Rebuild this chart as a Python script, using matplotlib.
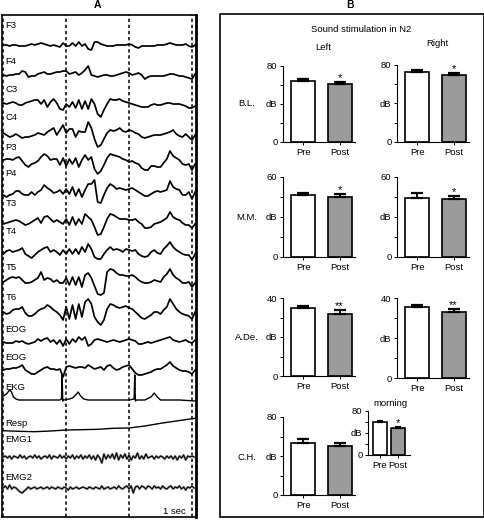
import numpy as np
import matplotlib
matplotlib.use('Agg')
import matplotlib.pyplot as plt
from matplotlib.patches import Rectangle

plt.rcParams['font.family'] = ['Liberation Sans', 'DejaVu Sans']

W, H = 485, 520

# ---------------- Panel A data (deflection in px, up positive; 0.05 s grid) ----------------
channels = ['F3', 'F4', 'C3', 'C4', 'P3', 'P4', 'T3', 'T4', 'T5', 'T6', 'EOG', 'EOG',
            'EKG', 'Resp', 'EMG1', 'EMG2']

F3 = [0, 0, -1, 0, 0, -1, -1, -1, 0, 1,
      0, 1, 2, 1, 0, -1, 0, -1, -2, 2,
      -1, -1, 2, -1, 3, -1, 1, -4, -5, 3,
      3, 1, 0, -1, -1, -1, 0, 0, 0, 0,
      1, 0, -2, -3, -1, -1, -1, -1, -1, 0,
      0, 0, 1, 2, 1, 0, 0, 0, 1, -1,
      -2, 0]
F4 = [0, -1, 0, 0, 1, 1, 4, 3, -2, -1,
      -1, 1, 2, 3, 1, 1, 2, 3, 3, 4,
      4, 1, 2, 3, 0, 2, 5, 9, 0, -1,
      -2, -1, 0, 0, -1, -1, 0, 1, 2, 3,
      2, 0, 1, 2, 0, -4, -2, -1, -1, -1,
      -1, -1, 0, 1, 1, 0, -1, -1, -2, -3,
      -4, 1]
C3 = [1, 0, 1, 2, 1, -1, -1, 1, 2, 3,
      4, 4, 0, 4, -3, 2, 5, 1, -5, -6,
      0, -3, 2, -4, 4, -5, 3, -5, 5, 0,
      -10, -13, -6, 0, 5, 4, 4, 5, 3, 2,
      1, 0, -1, -2, -3, -3, -3, -1, 0, -1,
      -1, 0, 1, 1, 0, 0, 0, -1, -2, -4,
      -4, -2]
C4 = [2, 0, -2, -1, 1, -1, -3, -2, -2, -1,
      0, 2, 1, 0, 3, 5, 7, 0, 5, 10,
      2, 6, 6, -2, 4, 3, 3, 13, 7, -4,
      -12, -10, -4, 2, 5, 4, 5, 7, 4, 3,
      5, 4, 2, 1, -2, -3, -2, -1, 0, 0,
      0, 1, 2, 3, 5, 1, -1, -2, 1, -2,
      -5, 0]
P3 = [2, 3, 3, 2, 4, 5, 1, -3, -5, -2,
      -1, 1, 5, 8, 6, 2, 3, 3, -3, 4,
      -4, 3, -2, 4, -5, 2, 7, 2, 5, -7,
      -12, -9, -3, 4, 8, 7, 6, 5, 3, 2,
      0, 1, -1, -2, -6, -8, -8, -4, -4, -5,
      -5, -1, 3, 11, 6, 4, 2, -2, -3, -2,
      -8, -2]
P4 = [-3, -5, -3, -2, 1, 1, -2, -3, -3, 0,
      -3, 0, 2, 7, 4, 2, -1, 0, 2, -2,
      3, -2, 5, -4, 3, -5, 2, 8, 8, 12,
      -10, -11, -3, 4, 8, 6, 3, 4, 3, 2,
      3, 4, 2, 0, -2, -4, -4, -2, 0, 1,
      0, 1, 2, 11, 5, 3, 2, -3, -3, 0,
      -7, 0]
T3 = [-2, -1, 0, 1, 2, 1, -1, -3, -2, 0,
      2, 4, -1, 5, 6, 3, 0, 2, 0, -2,
      3, -3, 5, -3, 3, -2, 8, 5, 2, -5,
      -13, -12, -5, 3, 8, 7, 5, 3, 3, 3,
      2, 2, 3, 0, -2, -6, -6, -5, -2, -1,
      0, 2, 4, 10, 5, 3, 2, -1, -3, -3,
      -6, -2]
T4 = [-2, 1, 2, 0, 1, 2, 4, -2, -4, -6,
      -3, 0, 2, 4, 5, 0, 2, 0, -3, 2,
      -2, 3, -2, 3, -2, 5, 0, 8, 3, -5,
      -7, -7, -2, 2, 5, 2, 3, 2, 0, 3,
      2, 1, 2, -2, -4, -5, -4, 0, 2, -1,
      -2, 3, 6, 10, 5, 2, 0, -2, -3, -3,
      -8, -2]
T5 = [-2, 0, 2, 3, 2, 3, 0, -3, -3, -2,
      0, 2, 8, 0, 2, 1, -2, 0, -3, -3,
      2, -5, 3, -5, 3, -7, 5, 7, 2, -6,
      -14, -15, -13, 8, 11, 10, 7, 5, 5, 4,
      4, 5, 3, 0, -2, -3, -3, -2, 0, -1,
      -2, 3, 6, 11, 5, 2, 0, -3, -3, -2,
      -7, -3]
T6 = [0, -2, -1, 2, 3, 3, 5, -1, -4, -4,
      -2, 1, 3, 4, 7, 5, 2, 0, -3, -8,
      5, -7, 7, -7, 8, -5, 10, 13, 8, -5,
      -10, -13, -8, 3, 8, 7, 5, 4, 5, 6,
      4, 3, 0, -3, -6, -7, -5, -3, 0, 0,
      -2, 2, 5, 13, 8, 3, 0, -2, -3, -4,
      -7, 0]
EOG1 = [0, -1, -1, -1, 1, 0, 1, -1, -2, -1,
        0, 3, 1, 3, 4, 0, 2, -2, 2, -4,
        3, -2, 3, 0, 5, 2, 5, -4, -2, 2,
        3, 2, 1, 0, 1, 2, 1, 0, 1, 2,
        3, 2, 1, -2, -2, -1, 0, -1, 0, 1,
        2, 3, 4, 5, 2, 1, 0, 1, 2, 0,
        -1, 2]
EOG2 = [0, 1, 1, 2, 2, 3, 5, 0, -2, -4,
        -4, -2, 0, 2, 3, 1, 1, 0, 1, -7,
        3, 4, 3, 2, 3, 3, 2, 5, 3, 1,
        2, 3, 0, 4, 5, 2, 0, 1, 3, 4,
        5, 1, -3, -5, -5, -4, -3, -2, 0, 1,
        1, 3, 5, 8, 4, 2, 0, -1, -1, -2,
        -4, 0]

# EKG: sample times (s) and deflection (px)
ekg_t = [0, 0.05, 0.1, 0.13, 0.16, 0.2, 0.25, 0.5, 0.8, 0.9,
         0.925, 0.935, 0.945, 0.96, 1.05, 1.1, 1.15, 1.19, 1.23, 1.28,
         1.35, 1.6, 1.9, 2.0, 2.08, 2.09, 2.1, 2.115, 2.13, 2.25,
         2.35, 2.4, 2.45, 2.5, 2.8, 3.05]
ekg_v = [4, 6, 10, 8, 3, 1, 0, 0, 0, 0,
         1, 25, -1, 0, 1, 2, 5, 8, 4, 1,
         0, 0, 0, 0, 1, 25, -1, 0, 0, 0,
         3, 7, 3, 0, 0, -1]

# Respiration: 0.25 s grid
resp = [0.3, -0.3, -0.7, 0, 1, 1.3, 1.7, 2.7, 3, 5, 7.7, 10, 12.3]

# EMG: 1/30 s grid
EMG1 = [0, 1, -1, 1, -2, 1, 0, -1, 2, -1, 1, -2, 0, 1, -1, 2, -1, 1, -2, 0,
        1, -1, 2, -2, 1, 0, -1, 2, -1, 1,
        -2, 1, -1, 2, -2, 1, -1, 2, -2, 1, -1, 2, -2, 1, -3, 2, -1, -6, 3, -2,
        2, -1, 3, -2, 4, -3, 2, -1, 3, -2,
        2, -3, 1, -1, 4, -2, 1, -2, 3, -1, 0, 1, -2, 1, -1, 1, 0, -2, 1, -1,
        1, -2, 1, -3, 1, -1, 2, -3, 1, 0,
        1, 0]
EMG2 = [0, 2, -1, 3, -1, 1, 0, -2, -4, -5, -3, -1, 1, -1, 0, 1, -1, 0, 1, -1,
        0, 1, -1, 1, 0, -1, 1, 0, -1, 1,
        0, -2, 1, -1, 0, 1, -1, 0, 1, 0, -1, 1, 0, -1, 1, 0, -1, 2, -1, 0,
        1, -1, 0, 1, -1, 2, 0, -1, 1, 2,
        -1, 2, -5, 1, 2, -1, 2, 1, -1, 2, 1, -1, 2, 0, 1, -1, 2, 0, -1, 1,
        2, -1, 1, 0, 2, -1, 1, -2, 1, 0,
        2, 0]

# ---------------- Panel B data ----------------
rows = ['B.L.', 'M.M.', 'A.De.', 'C.H.']
row_ymax = [80, 60, 40, 80]
left_pre = [64, 46.5, 35, 53]
left_post = [61, 45, 32, 50]
left_pre_err = [1.8, 1.5, 0.9, 4.1]
left_post_err = [1.8, 2.0, 1.7, 3.4]
left_sig = ['*', '*', '**', '']
right_pre = [72.5, 44, 35.5]
right_post = [69.5, 43.5, 32.8]
right_pre_err = [1.8, 4.0, 1.0]
right_post_err = [1.8, 2.2, 1.7]
right_sig = ['*', '*', '**']
morning_pre, morning_post = 60, 49
morning_pre_err, morning_post_err = 1.2, 1.8
morning_sig = '*'
xcats = ['Pre', 'Post']

# ---------------- Figure ----------------
fig = plt.figure(figsize=(W / 100, H / 100), dpi=100)


def px_axes(x0, y0, x1, y1):
    return fig.add_axes([x0 / W, 1 - y1 / H, (x1 - x0) / W, (y1 - y0) / H])


def ftxt(x, y, s, **kw):
    fig.text(x / W, 1 - y / H, s, **kw)


# ---- Panel A ----
axA = px_axes(2, 15, 196, 517)
axA.set_xlim(-0.021, 3.064)
axA.set_ylim(517, 15)
axA.set_xticks([])
axA.set_yticks([])
for s in axA.spines.values():
    s.set_linewidth(1.2)
axA.spines['right'].set_linewidth(2.0)
for t in [0, 1, 2, 3]:
    axA.axvline(t, color='black', ls=(0, (2.2, 1.8)), lw=1.1, zorder=1)

bases = [45, 75, 104, 135, 162, 192, 222, 252, 280, 312, 342, 370, 400, 431, 457, 488]
label_y = [25, 62, 90, 117, 147, 173, 203, 231, 267, 297, 330, 357, 387, 423, 440, 478]
grid_traces = [F3, F4, C3, C4, P3, P4, T3, T4, T5, T6, EOG1, EOG2]
for vals, b in zip(grid_traces, bases[:12]):
    v = np.asarray(vals, float)
    t = np.arange(len(v)) * 0.05
    axA.plot(t, b - v, color='black', lw=1.25, zorder=3)
# EKG
axA.plot(ekg_t, bases[12] - np.asarray(ekg_v, float), color='black', lw=1.0, zorder=3)
# Resp
rv = np.asarray(resp, float)
axA.plot(np.arange(len(rv)) * 0.25, bases[13] - rv, color='black', lw=1.0, zorder=3)
axA.plot([3.0, 3.05], [bases[13] - rv[-1], bases[13] - rv[-1] - 0.4], color='black', lw=1.0)
# EMG
for vals, b in zip([EMG1, EMG2], bases[14:]):
    v = np.asarray(vals, float)
    t = np.arange(len(v)) / 30
    axA.plot(t, b - v, color='#9a9a9a', lw=1.7, zorder=2)
    axA.plot(t, b - v, color='black', lw=0.8, zorder=3)

for name, y in zip(channels, label_y):
    axA.text(0.035, y, name, fontsize=6.8, ha='left', va='center', zorder=4)
axA.text(2.72, 511, '1 sec', fontsize=6.8, ha='center', va='center')

ftxt(97, 5, 'A', fontsize=7.5, fontweight='bold', ha='center', va='center')
ftxt(350, 5, 'B', fontsize=7.5, fontweight='bold', ha='center', va='center')

# ---- Panel B ----
fig.add_artist(Rectangle((220 / W, 1 - 517 / H), 264 / W, 503 / H,
                         transform=fig.transFigure, fill=False, lw=1.2, ec='black'))
ftxt(361, 29, 'Sound stimulation in N2', fontsize=6.8, ha='center', va='center')
ftxt(323, 47, 'Left', fontsize=6.8, ha='center', va='center')
ftxt(437, 43, 'Right', fontsize=6.8, ha='center', va='center')

GRAY = '#9b9b9b'
FS = 6.8


def bar_panel(rect, ymax, pre, post, pre_err, post_err, sig, xlim, width, capsize):
    ax = px_axes(*rect)
    ax.bar([0, 1], [pre, post], width, color=['white', GRAY], edgecolor='black',
           linewidth=1.2, zorder=2)
    ax.errorbar([0, 1], [pre, post], yerr=[[0, 0], [pre_err, post_err]], fmt='none',
                ecolor='black', elinewidth=1.3, capsize=capsize, capthick=1.6, zorder=3)
    ax.set_xlim(*xlim)
    ax.set_ylim(0, ymax)
    ax.set_yticks(np.linspace(0, ymax, 5))
    ax.set_yticklabels(['0', '', 'dB', '', str(ymax)])
    ax.set_xticks([0, 1])
    ax.set_xticklabels(xcats)
    for s in ['top', 'right']:
        ax.spines[s].set_visible(False)
    for s in ['left', 'bottom']:
        ax.spines[s].set_linewidth(0.8)
    ax.tick_params(length=2, width=0.7, labelsize=FS, pad=2)
    ax.patch.set_alpha(0)
    if sig:
        ax.annotate(sig, xy=(1, post + post_err), xytext=(0, -0.5), textcoords='offset points',
                    ha='center', va='bottom', fontsize=8)
    return ax


xl = (-0.55, 1.42)
left_rects = [(283, 66, 355, 142), (283, 177, 355, 257), (283, 298, 355, 376), (283, 417, 355, 495)]
right_rects = [(397, 65, 469, 142), (397, 177, 469, 257), (397, 298, 469, 378)]
row_label_y = [104, 217, 337, 457]

for i in range(4):
    bar_panel(left_rects[i], row_ymax[i], left_pre[i], left_post[i],
              left_pre_err[i], left_post_err[i], left_sig[i], xl, 0.66, 4.5)
    ftxt(247, row_label_y[i], rows[i], fontsize=FS, ha='center', va='center')
for i in range(3):
    bar_panel(right_rects[i], row_ymax[i], right_pre[i], right_post[i],
              right_pre_err[i], right_post_err[i], right_sig[i], xl, 0.66, 4.5)

# morning inset
bar_panel((368, 411, 410, 455), 80, morning_pre, morning_post,
          morning_pre_err, morning_post_err, morning_sig, (-0.67, 1.67), 0.83, 2.5)
ftxt(390, 404, 'morning', fontsize=FS, ha='center', va='center')

fig.savefig('out.png', dpi=100)
